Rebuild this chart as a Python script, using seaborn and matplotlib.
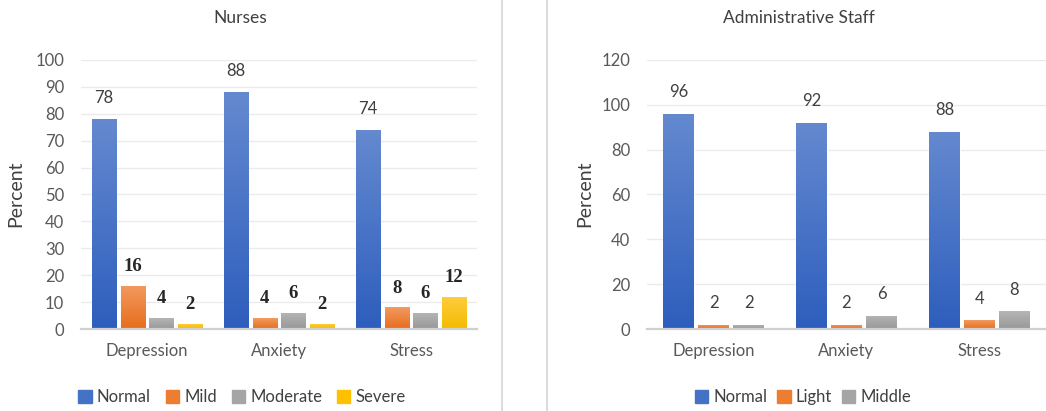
import numpy as np
import pandas as pd
import seaborn as sns
import matplotlib.pyplot as plt
from matplotlib.colors import LinearSegmentedColormap
from matplotlib.patches import Patch

categories = ["Depression", "Anxiety", "Stress"]

nurse_levels = ["Normal", "Mild", "Moderate", "Severe"]
nurse_normal = [78, 88, 74]
nurse_mild = [16, 4, 8]
nurse_moderate = [4, 6, 6]
nurse_severe = [2, 2, 12]

staff_levels = ["Normal", "Light", "Middle"]
staff_normal = [96, 92, 88]
staff_light = [2, 2, 4]
staff_middle = [2, 6, 8]

sns.set_style("white")
plt.rcParams['font.family'] = ['Lato', 'DejaVu Sans']

# flat colour for legend, (top, bottom) for the bar gradient
blue = ("#4472C4", "#6489cf", "#2e5ebd")
orange = ("#ED7D31", "#f29a60", "#e76d1c")
gray = ("#A5A5A5", "#b5b5b5", "#989898")
yellow = ("#FFC000", "#ffcd40", "#f4bb00")

txt = "#404040"
tick_col = "#595959"


def long_df(levels, series):
    rows = []
    for lev, vals in zip(levels, series):
        for c, v in zip(categories, vals):
            rows.append({"cat": c, "level": lev, "value": v})
    return pd.DataFrame(rows)


def gradient_bars(ax, cols):
    grad = np.linspace(0, 1, 100).reshape(-1, 1)
    for cont, c in zip(ax.containers, cols):
        cmap = LinearSegmentedColormap.from_list("g", [c[1], c[2]])
        for bar in cont:
            x0 = bar.get_x()
            w = bar.get_width()
            h = bar.get_height()
            im = ax.imshow(grad, cmap=cmap, aspect="auto",
                           extent=[x0, x0 + w, 0, h], origin="upper", zorder=3)
            im.set_clip_path(bar)


def style_axes(ax, ymax, step):
    ax.set_ylim(0, ymax)
    ax.set_xlim(-0.5, 2.5)
    ax.set_yticks(np.arange(0, ymax + 1, step))
    ax.yaxis.grid(True, color="#ebebeb", linewidth=1)
    ax.set_axisbelow(True)
    for s in ["top", "right", "left"]:
        ax.spines[s].set_visible(False)
    ax.spines["bottom"].set_color("#d0d0d0")
    ax.spines["bottom"].set_linewidth(1.6)
    ax.spines["bottom"].set_zorder(5)
    ax.tick_params(axis="both", length=0, labelsize=12, labelcolor=tick_col)
    ax.tick_params(axis="y", pad=12)
    ax.tick_params(axis="x", pad=10)
    ax.set_xlabel("")
    ax.set_ylabel("")


fig = plt.figure(figsize=(10.46, 4.11), dpi=100)
W, H = 1046, 411

# Nurses
ax1 = fig.add_axes([81 / W, (H - 329) / H, 396 / W, 269 / H])
df1 = long_df(nurse_levels, [nurse_normal, nurse_mild, nurse_moderate, nurse_severe])
pal1 = [c[0] for c in (blue, orange, gray, yellow)]
sns.barplot(data=df1, x="cat", y="value", hue="level", palette=pal1,
            width=0.87, gap=0.16, legend=False, ax=ax1, zorder=2)
gradient_bars(ax1, (blue, orange, gray, yellow))
style_axes(ax1, 100, 10)
for i, cont in enumerate(ax1.containers):
    for bar in cont:
        v = bar.get_height()
        xc = bar.get_x() + bar.get_width() / 2
        if i == 0:
            ax1.annotate(f"{v:.0f}", (xc, v), xytext=(0, 15), textcoords="offset points",
                         ha="center", va="center", fontsize=12, color=txt)
        else:
            ax1.annotate(f"{v:.0f}", (xc, v), xytext=(0, 14), textcoords="offset points",
                         ha="center", va="center", fontsize=13.5, color="#262626",
                         family="Liberation Serif", fontweight="bold")

# Administrative staff
ax2 = fig.add_axes([647 / W, (H - 329) / H, 399 / W, 269 / H])
df2 = long_df(staff_levels, [staff_normal, staff_light, staff_middle])
pal2 = [c[0] for c in (blue, orange, gray)]
sns.barplot(data=df2, x="cat", y="value", hue="level", palette=pal2,
            width=0.79, gap=0.14, legend=False, ax=ax2, zorder=2)
gradient_bars(ax2, (blue, orange, gray))
style_axes(ax2, 120, 20)
for cont in ax2.containers:
    for bar in cont:
        v = bar.get_height()
        xc = bar.get_x() + bar.get_width() / 2
        ax2.annotate(f"{v:.0f}", (xc, v), xytext=(0, 15.5), textcoords="offset points",
                     ha="center", va="center", fontsize=12, color=txt)

# titles, axis labels, legends in figure coords
fig.text(240 / W, 1 - 18 / H, "Nurses", ha="center", va="center", fontsize=12.5, color=txt)
fig.text(799 / W, 1 - 18 / H, "Administrative Staff", ha="center", va="center",
         fontsize=12.5, color=txt)
fig.text(16 / W, 1 - 194 / H, "Percent", rotation=90, ha="center", va="center",
         fontsize=14, color=txt)
fig.text(585 / W, 1 - 194 / H, "Percent", rotation=90, ha="center", va="center",
         fontsize=14, color=txt)

h1 = [Patch(color=c[0]) for c in (blue, orange, gray, yellow)]
fig.legend(h1, nurse_levels, loc="center", bbox_to_anchor=(242 / W, 1 - 397 / H),
           ncol=4, frameon=False, fontsize=12, handlelength=0.8, handleheight=0.8,
           handletextpad=0.3, columnspacing=0.9, labelcolor=txt)
h2 = [Patch(color=c[0]) for c in (blue, orange, gray)]
fig.legend(h2, staff_levels, loc="center", bbox_to_anchor=(803 / W, 1 - 397 / H),
           ncol=3, frameon=False, fontsize=12, handlelength=0.8, handleheight=0.8,
           handletextpad=0.3, columnspacing=0.6, labelcolor=txt)

# panel separators
for x in (502, 547):
    fig.add_artist(plt.Line2D([x / W, x / W], [0, 1], color="#dcdcdc", linewidth=1.5))

fig.savefig("out.png", dpi=100)
